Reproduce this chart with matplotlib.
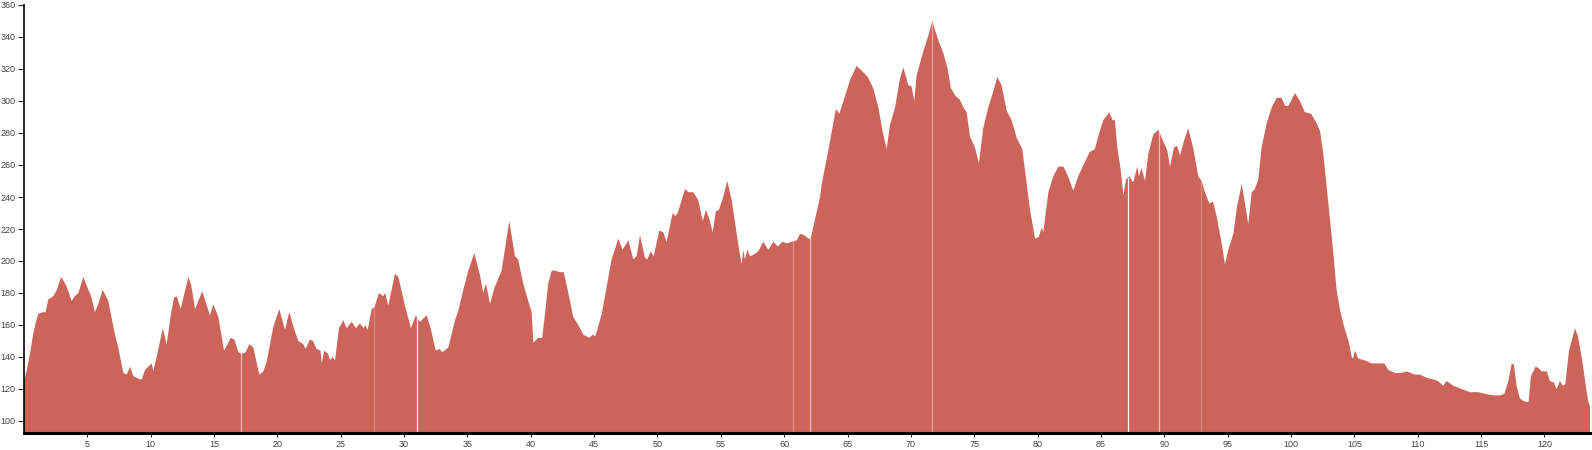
import numpy as np
import matplotlib
matplotlib.use('Agg')
import matplotlib.pyplot as plt

# elevation profile: distance (km) vs elevation (m)
km = [0.0, 0.2, 0.47, 0.74, 0.95, 1.13, 1.5, 1.7, 1.92, 2.31, 2.6, 2.92, 3.1, 3.37, 3.76, 4.0, 4.29, 4.68,
      5.08, 5.3, 5.6, 5.9, 6.21, 6.4, 6.66, 6.9, 7.18, 7.44, 7.84, 8.1, 8.37, 8.63, 9.16, 9.3, 9.55, 10.08,
      10.2, 10.47, 10.95, 11.26, 11.58, 11.84, 12.05, 12.37, 12.97, 13.2, 13.5, 14.07, 14.68, 14.94, 15.34,
      15.79, 16.0, 16.31, 16.6, 16.92, 17.2, 17.5, 17.78, 18.1, 18.57, 18.89, 19.15, 19.68, 20.15, 20.6,
      20.94, 21.3, 21.65, 22.05, 22.23, 22.57, 22.8, 23.1, 23.4, 23.5, 23.7, 24.0, 24.15, 24.35, 24.55,
      24.86, 25.2, 25.47, 25.86, 26.2, 26.52, 26.8, 26.95, 27.13, 27.44, 27.65, 28.02, 28.35, 28.5, 28.75,
      29.28, 29.55, 30.07, 30.54, 30.92, 31.25, 31.78, 32.1, 32.49, 32.8, 33.02, 33.5, 34.02, 34.28, 34.67,
      35.07, 35.54, 35.99, 36.25, 36.46, 36.78, 37.12, 37.7, 38.3, 38.75, 39.0, 39.4, 39.8, 40.07, 40.2,
      40.59, 40.9, 41.12, 41.38, 41.65, 41.9, 42.3, 42.6, 42.96, 43.35, 43.75, 44.14, 44.62, 44.9, 45.1,
      45.6, 45.99, 46.38, 46.91, 47.25, 47.7, 48.09, 48.35, 48.62, 49.01, 49.2, 49.46, 49.7, 50.14, 50.45,
      50.72, 51.2, 51.4, 51.6, 52.17, 52.45, 52.83, 53.22, 53.57, 53.83, 54.1, 54.36, 54.6, 54.85, 55.15,
      55.51, 55.86, 56.12, 56.38, 56.64, 56.77, 56.9, 57.09, 57.3, 57.6, 57.95, 58.35, 58.75, 59.14, 59.5,
      59.85, 60.2, 60.59, 61.0, 61.25, 61.6, 61.9, 62.09, 62.43, 62.83, 62.96, 63.48, 64.01, 64.1, 64.35,
      64.8, 65.19, 65.72, 66.24, 66.6, 67.03, 67.43, 67.82, 68.09, 68.35, 68.75, 69.14, 69.4, 69.8, 70.05,
      70.27, 70.45, 70.98, 71.38, 71.69, 72.16, 72.56, 72.9, 73.16, 73.53, 73.85, 74.13, 74.4, 74.66, 75.05,
      75.37, 75.71, 76.11, 76.5, 76.82, 77.15, 77.56, 77.95, 78.35, 78.79, 79.0, 79.4, 79.8, 80.1, 80.32,
      80.45, 80.85, 81.24, 81.64, 82.05, 82.4, 82.82, 83.21, 83.74, 84.1, 84.53, 84.79, 85.18, 85.66, 85.92,
      86.1, 86.29, 86.56, 86.77, 86.98, 87.24, 87.55, 87.87, 88.0, 88.2, 88.48, 88.74, 89.13, 89.53, 89.85,
      90.24, 90.45, 90.77, 91.0, 91.24, 91.55, 91.89, 92.3, 92.68, 92.95, 93.21, 93.55, 93.85, 94.13, 94.53,
      94.79, 95.05, 95.45, 95.72, 96.11, 96.37, 96.63, 96.9, 97.15, 97.42, 97.68, 98.08, 98.48, 98.87, 99.25,
      99.53, 99.8, 100.32, 100.7, 101.1, 101.6, 102.03, 102.3, 102.55, 102.95, 103.34, 103.6, 103.9, 104.26,
      104.58, 104.79, 104.9, 105.05, 105.31, 105.8, 106.37, 106.8, 107.37, 107.68, 108.21, 108.7, 109.13,
      109.79, 110.2, 110.71, 111.23, 111.6, 112.02, 112.29, 112.81, 113.47, 114.13, 114.8, 115.31, 115.97,
      116.5, 116.84, 117.16, 117.42, 117.6, 117.81, 118.07, 118.47, 118.75, 118.94, 119.31, 119.55, 119.78,
      120.2, 120.43, 120.75, 120.96, 121.23, 121.45, 121.65, 121.94, 122.42, 122.65, 123.0, 123.34, 123.55,
      123.6]
elev = [125, 131, 142, 155, 162, 167, 168, 168, 176, 178, 182, 190, 188, 184, 175, 178, 180, 190,
        182, 178, 168, 174, 182, 179, 175, 165, 154, 146, 130, 129, 134, 128, 126, 126, 132, 136,
        131, 140, 158, 148, 166, 177, 178, 170, 190, 185, 170, 181, 166, 173, 165,
        144, 147, 152, 151, 143, 142, 143, 148, 146, 129, 131, 137, 159, 170, 157,
        168, 158, 150, 148, 145, 151, 150, 145, 144, 136, 144, 142, 138, 140, 138,
        158, 163, 158, 162, 158, 161, 158, 160, 157, 170, 171, 180, 178, 180, 172,
        192, 190, 172, 158, 166, 162, 166, 158, 144, 145, 143, 146, 163, 169, 182,
        194, 205, 191, 180, 186, 173, 183, 194, 225, 203, 201, 186, 175, 168, 149,
        152, 152, 167, 186, 194, 194, 193, 193, 180, 165, 160, 154, 152, 154, 153,
        167, 184, 201, 214, 207, 213, 201, 203, 216, 202, 201, 206, 203, 219, 218,
        212, 230, 228, 230, 245, 243, 243, 238, 225, 232, 226, 218, 231, 232, 239,
        250, 238, 224, 210, 198, 207, 201, 207, 203, 204, 206, 212, 207, 212, 209,
        212, 211, 212, 213, 217, 216, 214, 214, 226, 240, 248, 269, 292, 295, 292,
        303, 313, 322, 318, 315, 308, 296, 279, 270, 285, 296, 314, 321, 310, 309,
        300, 316, 331, 341, 350, 338, 330, 320, 308, 303, 301, 296, 293, 278, 271,
        261, 283, 296, 306, 315, 310, 294, 288, 277, 270, 257, 232, 214, 215, 221,
        218, 243, 253, 259, 259, 253, 244, 253, 262, 268, 270, 278, 288, 293, 288,
        288, 271, 257, 241, 251, 253, 249, 259, 253, 258, 250, 267, 279, 282, 276,
        269, 259, 271, 272, 266, 275, 283, 270, 253, 250, 243, 236, 237, 228, 211,
        198, 207, 217, 233, 248, 236, 223, 243, 245, 251, 271, 286, 296, 302, 302,
        297, 297, 305, 300, 293, 292, 286, 281, 267, 236, 205, 182, 168, 157,
        149, 140, 139, 144, 139, 138, 136, 136, 136, 132, 130, 130, 131,
        129, 129, 127, 126, 125, 122, 125, 122, 120, 118, 118, 117, 116,
        116, 117, 125, 136, 135, 122, 114, 112, 112, 128, 134, 133, 131,
        131, 125, 124, 120, 125, 122, 123, 144, 158, 153, 137, 118, 109,
        112]

# thin breaks between track segments
gap_km = [17.1, 27.65, 31.0, 60.7, 62.0, 71.65, 87.1, 89.6, 92.9]
gap_alpha = [0.6, 0.25, 0.95, 0.3, 0.6, 0.45, 0.95, 0.6, 0.25]

y_ticks = list(range(100, 361, 20))
x_ticks = list(range(5, 121, 5))

fig = plt.figure(figsize=(15.92, 4.5), dpi=100)
ax = fig.add_axes([24/1592, 17/450, 1566/1592, 428/450])

ax.fill_between(km, elev, 0, color='#cd6459', lw=0)
tops = np.interp(gap_km, km, elev)
for g, t, a in zip(gap_km, tops, gap_alpha):
    ax.plot([g, g], [0, t], color='white', lw=0.9, alpha=a)

ax.set_xlim(0, 123.6)
ax.set_ylim(92.5, 360)
ax.set_xticks(x_ticks)
ax.set_yticks(y_ticks)
for s in ('top', 'right'):
    ax.spines[s].set_visible(False)
ax.spines['left'].set_linewidth(1.2)
ax.spines['bottom'].set_linewidth(2.2)
ax.tick_params(axis='y', length=4, width=0.8, color='#222', labelsize=6.5, labelcolor='#444', pad=2)
ax.tick_params(axis='x', length=3, width=0.8, color='#222', labelsize=6.5, labelcolor='#444', pad=2)
for lab in ax.get_xticklabels() + ax.get_yticklabels():
    lab.set_family(['Liberation Sans', 'DejaVu Sans'])

fig.savefig('out.png', dpi=100)
